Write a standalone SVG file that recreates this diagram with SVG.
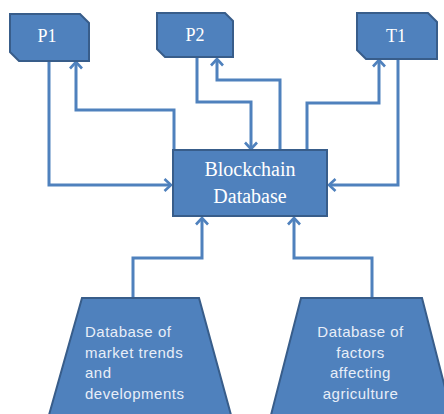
<svg xmlns="http://www.w3.org/2000/svg" width="444" height="414" viewBox="0 0 444 414">
<style>
.box{fill:#4f81bd;stroke:#385d8a;stroke-width:2}
.lbl{font-family:"Liberation Serif","Times New Roman",serif;fill:#ffffff;text-anchor:middle}
.tl{font-family:"Liberation Sans",Arial,sans-serif;font-size:15px;letter-spacing:0.5px;fill:#e8eef8}
.c{fill:none;stroke:#4f81bd;stroke-width:3}
</style>
<defs>
<marker id="ah" viewBox="0 0 10 14" refX="8" refY="7" markerWidth="10" markerHeight="14" markerUnits="userSpaceOnUse" orient="auto">
<path d="M1.5,1 L8,7 L1.5,13" fill="none" stroke="#4f81bd" stroke-width="2.6"/>
</marker>
</defs>
<rect width="444" height="414" fill="#ffffff"/>
<g id="connectors">
<path class="c" d="M49,61 V185 H171" marker-end="url(#ah)"/>
<path class="c" d="M174,150 V110 H76 V62" marker-end="url(#ah)"/>
<path class="c" d="M197,58 V102 H251 V149" marker-end="url(#ah)"/>
<path class="c" d="M280,150 V80 H217 V59" marker-end="url(#ah)"/>
<path class="c" d="M307,150 V103 H379 V60" marker-end="url(#ah)"/>
<path class="c" d="M398,59 V185 H329" marker-end="url(#ah)"/>
<path class="c" d="M133,298 V258 H202 V218" marker-end="url(#ah)"/>
<path class="c" d="M372,298 V258 H294 V218" marker-end="url(#ah)"/>
</g>
<g id="P1">
<path class="box" d="M10,14 H80 L89,23 V61 H19 L10,52 Z"/>
<text class="lbl" x="47" y="42" font-size="18">P1</text>
</g>
<g id="P2">
<path class="box" d="M157,13 H225 L233,21 V57 H165 L157,49 Z"/>
<text class="lbl" x="195" y="41" font-size="18">P2</text>
</g>
<g id="T1">
<path class="box" d="M357,13 H428 L437,22 V59 H366 L357,50 Z"/>
<text class="lbl" x="396" y="42" font-size="18">T1</text>
</g>
<g id="blockchain">
<rect class="box" x="173" y="150" width="154" height="66"/>
<text class="lbl" x="250" y="176" font-size="20">Blockchain</text>
<text class="lbl" x="250" y="203" font-size="20">Database</text>
</g>
<g id="market">
<path class="box" d="M82,298 H199 L231,415 H49 Z"/>
<text class="tl" x="85" y="337">Database of</text>
<text class="tl" x="85" y="357.5">market trends</text>
<text class="tl" x="85" y="378">and</text>
<text class="tl" x="85" y="398.5">developments</text>
</g>
<g id="factors">
<path class="box" d="M301,298 H422 L452,415 H271 Z"/>
<text class="tl" x="360.5" y="337" text-anchor="middle">Database of</text>
<text class="tl" x="360.5" y="357.5" text-anchor="middle">factors</text>
<text class="tl" x="360.5" y="378" text-anchor="middle">affecting</text>
<text class="tl" x="360.5" y="398.5" text-anchor="middle">agriculture</text>
</g>
</svg>
